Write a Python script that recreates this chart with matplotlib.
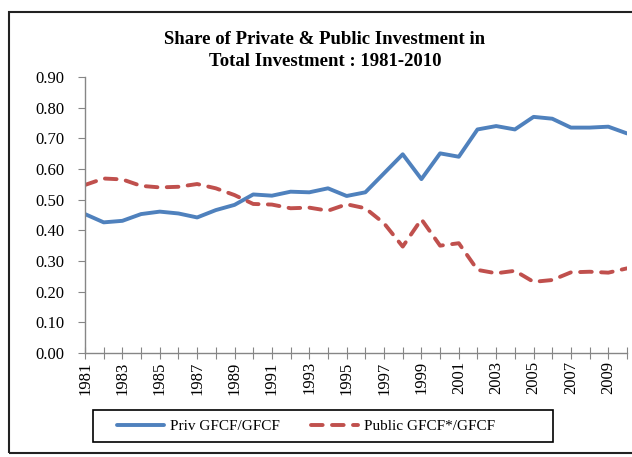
import matplotlib
matplotlib.use("Agg")
import matplotlib.pyplot as plt
from matplotlib.patches import Rectangle

years = list(range(1981, 2011))
priv_share = [0.453, 0.426, 0.431, 0.453, 0.461, 0.455, 0.442, 0.466, 0.483, 0.517,
              0.513, 0.526, 0.524, 0.537, 0.512, 0.524, 0.586, 0.648, 0.567, 0.651,
              0.640, 0.729, 0.740, 0.729, 0.770, 0.764, 0.735, 0.735, 0.738, 0.716]
public_share = [0.548, 0.569, 0.566, 0.545, 0.540, 0.542, 0.551, 0.537, 0.515, 0.486,
                0.484, 0.472, 0.474, 0.464, 0.485, 0.472, 0.423, 0.347, 0.436, 0.350,
                0.358, 0.271, 0.260, 0.268, 0.232, 0.238, 0.263, 0.265, 0.262, 0.276]
y_ticks = [0.0, 0.1, 0.2, 0.3, 0.4, 0.5, 0.6, 0.7, 0.8, 0.9]

plt.rcParams["font.family"] = ["Liberation Serif", "DejaVu Serif"]

W, H = 632, 457
fig = plt.figure(figsize=(W / 100, H / 100), dpi=100)
ax = fig.add_axes([85 / W, 1 - 353 / H, (627 - 85) / W, (353 - 77) / H])

blue = "#4F81BD"
red = "#C0504D"
grey = "#868686"

ax.plot(years, priv_share, color=blue, lw=2.8, solid_capstyle="round",
        solid_joinstyle="round", label="Priv GFCF/GFCF")
ln, = ax.plot(years, public_share, color=red, lw=2.8, dash_capstyle="round",
              label="Public GFCF*/GFCF")
ln.set_dashes((3.0, 2.4))

ax.set_xlim(1981, 2010)
ax.set_ylim(0, 0.9)
ax.set_yticks(y_ticks)
ax.set_yticklabels([f"{v:.2f}" for v in y_ticks], fontsize=12)
ax.set_xticks(years)
ax.set_xticklabels([str(y) if i % 2 == 0 else "" for i, y in enumerate(years)],
                   rotation=90, fontsize=12)

for s in ["top", "right"]:
    ax.spines[s].set_visible(False)
for s in ["left", "bottom"]:
    ax.spines[s].set_color(grey)
    ax.spines[s].set_linewidth(1.0)
ax.tick_params(axis="y", direction="out", length=5, color=grey, pad=10)
ax.tick_params(axis="x", direction="inout", length=8, color=grey, pad=2)

fig.text(325 / W, 1 - 40 / H, "Share of Private & Public Investment in",
         ha="center", va="center", fontsize=13.5, fontweight="bold")
fig.text(325 / W, 1 - 62 / H, "Total Investment : 1981-2010",
         ha="center", va="center", fontsize=13.5, fontweight="bold")

leg = fig.legend(loc="center", bbox_to_anchor=(306 / W, 1 - 426 / H), ncol=2,
                 frameon=False, fontsize=11, handlelength=3.1,
                 columnspacing=2.0, handletextpad=0.4)
fig.patches.append(Rectangle((93 / W, 1 - 442 / H), (553 - 93) / W, 32 / H,
                             transform=fig.transFigure, fill=False,
                             edgecolor="black", lw=1.2))

# outer chart border (right edge falls outside the image)
fig.patches.append(Rectangle((9 / W, 1 - 453 / H), 1.0, (453 - 12) / H,
                             transform=fig.transFigure, fill=False,
                             edgecolor="#222222", lw=1.5, clip_on=False))

fig.savefig("out.png", dpi=100)
